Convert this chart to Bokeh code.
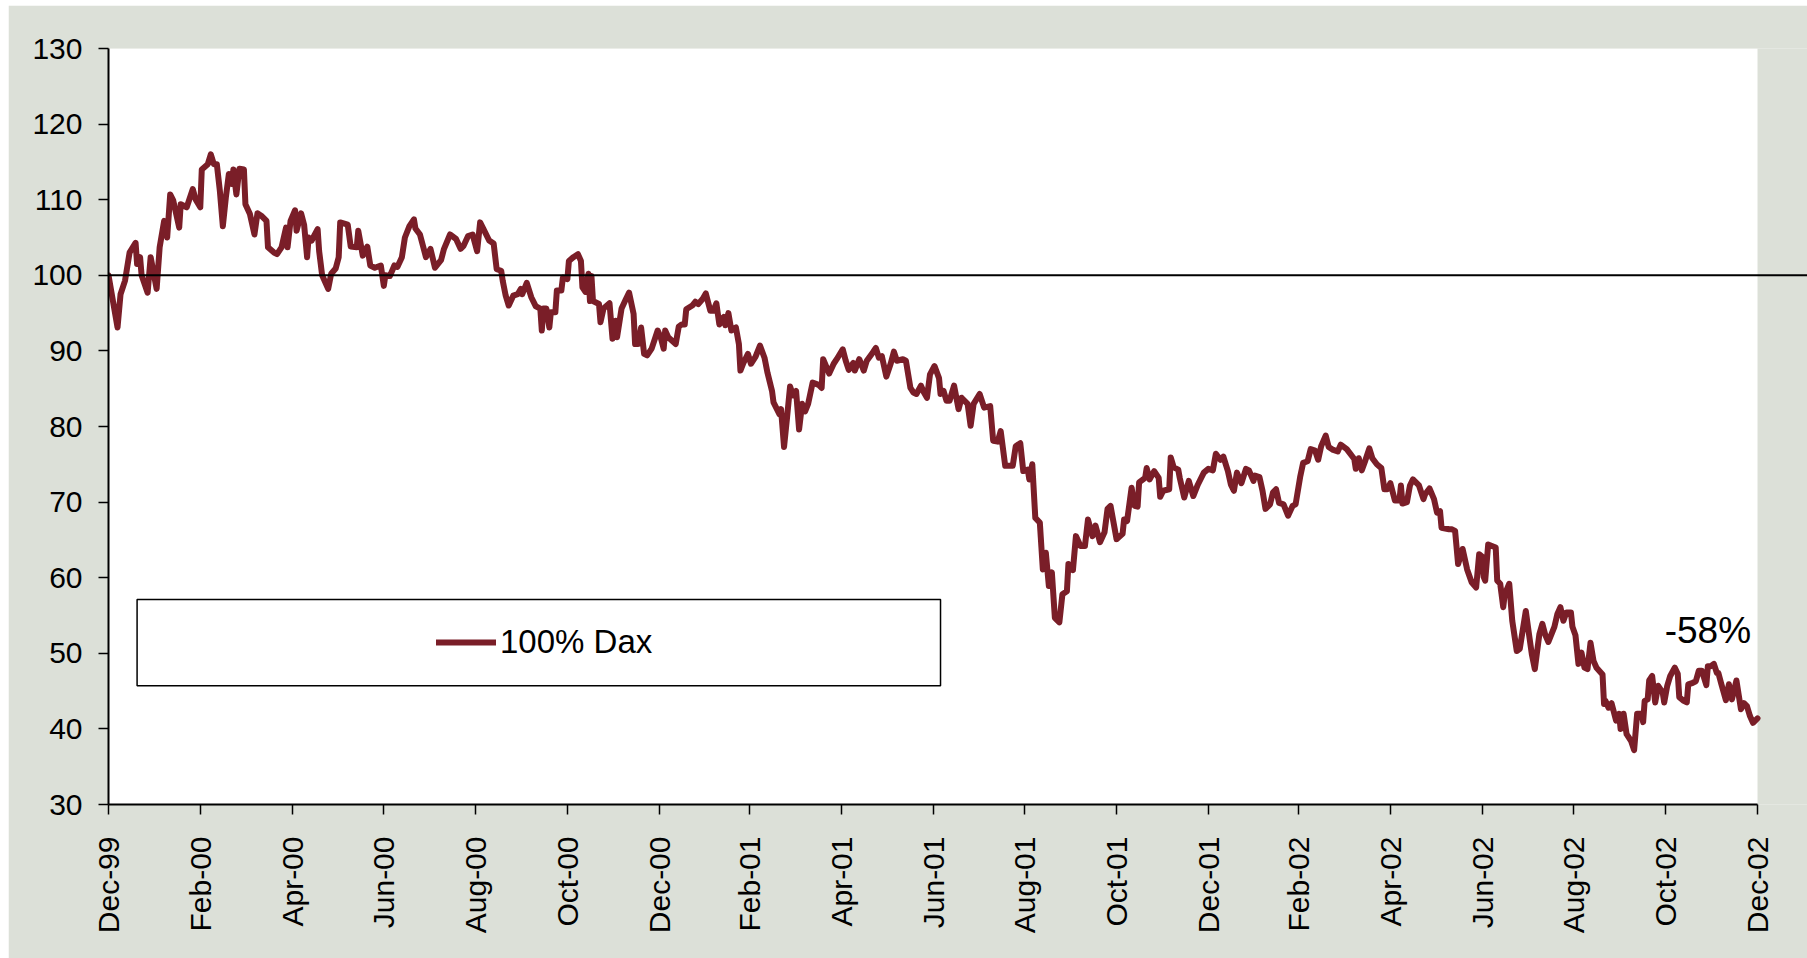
import math
from datetime import datetime, timedelta

from bokeh.plotting import figure
from bokeh.models import (Range1d, FixedTicker, DatetimeTickFormatter, Legend,
                          LegendItem, BoxAnnotation, Span, Label, ColumnDataSource)
from bokeh.embed import file_html
from bokeh.resources import INLINE

# ---------------- data ----------------
START = datetime(1999, 12, 30)
END = datetime(2002, 12, 30)

# days since 30 Dec 1999 and indexed DAX level (start = 100)
day_offset = [
    0, 6, 8, 11, 14, 18, 19, 21, 22, 26, 28, 32, 34, 37, 39, 41, 43, 47, 48, 52,
    56, 58, 61, 62, 66, 68, 70, 72, 74, 76, 78, 80, 82, 83, 85, 87, 90, 91, 94, 97,
    99, 102, 105, 106, 110, 112, 115, 118, 119, 121, 124, 125, 128, 130, 132, 133, 135, 139, 140, 142,
    146, 148, 151, 153, 154, 159, 161, 165, 166, 169, 172, 174, 177, 181, 183, 184, 187, 190, 192, 195,
    197, 200, 203, 204, 207, 211, 214, 217, 221, 223, 227, 231, 234, 236, 239, 242, 245, 247, 249, 253,
    256, 258, 261, 262, 264, 266, 269, 272, 274, 275, 278, 281, 284, 287, 288, 289, 291, 293, 294, 297,
    298, 301, 302, 305, 306, 309, 312, 314, 315, 317, 319, 320, 321, 322, 326, 327, 329, 333, 335, 337,
    338, 341, 344, 346, 349, 350, 352, 354, 356, 358, 361, 365, 367, 369, 370, 372, 377, 379, 381, 383,
    384, 388, 390, 392, 395, 397, 400, 402, 404, 406, 409, 410, 412, 414, 417, 419, 420, 422, 425, 427,
    430, 433, 436, 438, 441, 442, 446, 447, 449, 451, 453, 455, 457, 459, 461, 463, 465, 468, 472, 474,
    475, 479, 482, 484, 488, 490, 492, 495, 496, 499, 502, 504, 508, 510, 512, 514, 517, 520, 522, 524,
    528, 530, 533, 535, 537, 540, 542, 544, 546, 549, 552, 553, 555, 557, 559, 562, 565, 567, 571, 573,
    575, 579, 582, 586, 588, 591, 593, 596, 601, 603, 606, 608, 611, 612, 614, 616, 619, 621, 623, 625,
    627, 629, 632, 634, 637, 638, 641, 643, 646, 649, 651, 654, 656, 659, 662, 664, 666, 670, 674, 675,
    677, 680, 682, 684, 685, 689, 690, 692, 695, 698, 699, 701, 705, 706, 708, 711, 712, 715, 718, 721,
    724, 728, 731, 734, 736, 739, 741, 744, 746, 748, 750, 753, 756, 758, 761, 762, 765, 767, 769, 772,
    774, 776, 778, 781, 784, 787, 789, 792, 794, 797, 799, 802, 804, 806, 809, 811, 814, 817, 819, 823,
    828, 829, 831, 833, 835, 838, 840, 843, 846, 848, 850, 852, 855, 858, 859, 860, 863, 865, 867, 871,
    874, 875, 878, 881, 883, 885, 886, 891, 893, 895, 897, 900, 903, 906, 909, 911, 913, 914, 915, 917,
    922, 923, 925, 927, 928, 931, 933, 936, 938, 942, 944, 946, 948, 951, 953, 955, 957, 961, 963, 965,
    967, 969, 972, 973, 975, 977, 979, 981, 983, 985, 987, 989, 993, 994, 995, 997, 999, 1002, 1004, 1005,
    1007, 1009, 1012, 1014, 1016, 1019, 1020, 1021, 1023, 1024, 1026, 1028, 1030, 1033, 1034, 1036, 1038, 1041, 1043, 1044,
    1047, 1049, 1050, 1053, 1055, 1057, 1059, 1062, 1063, 1065, 1067, 1069, 1070, 1072, 1075, 1077, 1079, 1082, 1085, 1087,
    1089, 1091, 1093, 1096,
]

dax = [
    100.0, 93.1, 97.5, 99.3, 103.0, 104.3, 101.5, 102.4, 100.0, 97.7, 102.4, 98.2, 103.7, 107.2, 105.0, 110.7, 109.9, 106.3, 109.4, 109.0,
    111.4, 110.0, 109.0, 114.0, 114.7, 116.0, 114.7, 114.7, 111.2, 106.5, 110.3, 113.4, 112.1, 114.0, 110.7, 114.1, 114.0, 109.4, 108.1, 105.4,
    108.2, 107.8, 107.2, 103.7, 103.0, 102.8, 103.7, 106.3, 103.7, 107.2, 108.6, 105.9, 108.2, 106.7, 102.4, 105.0, 104.6, 106.1, 103.2, 100.0,
    98.2, 100.2, 100.9, 102.4, 107.0, 106.7, 103.8, 103.7, 105.9, 102.6, 103.8, 101.3, 101.0, 101.3, 98.6, 100.0, 99.9, 101.3, 101.1, 102.4,
    105.0, 106.5, 107.4, 106.2, 105.4, 102.4, 103.5, 101.0, 102.0, 103.5, 105.4, 104.8, 103.5, 103.9, 105.2, 105.4, 103.2, 107.0, 106.2, 104.6,
    104.2, 100.8, 100.6, 99.3, 97.3, 96.0, 97.3, 97.5, 98.2, 97.5, 99.0, 97.1, 95.9, 95.6, 92.7, 95.6, 95.6, 93.1, 95.1, 95.1,
    98.0, 98.0, 99.7, 99.5, 101.9, 102.4, 102.8, 101.9, 98.4, 97.8, 100.2, 96.6, 99.9, 96.6, 96.2, 93.8, 95.6, 96.3, 91.6, 94.0,
    91.8, 95.6, 96.9, 97.7, 94.9, 90.9, 90.9, 93.1, 89.6, 89.4, 90.3, 92.7, 91.8, 90.3, 92.7, 91.8, 90.9, 93.2, 93.5, 93.5,
    95.5, 96.0, 96.5, 96.2, 96.9, 97.6, 95.3, 95.3, 96.3, 93.5, 94.5, 93.4, 95.0, 92.7, 93.1, 90.9, 87.4, 88.4, 89.6, 88.3,
    89.2, 90.7, 89.1, 87.1, 84.7, 83.2, 81.6, 82.3, 77.3, 81.2, 85.3, 84.1, 84.7, 79.6, 83.0, 82.0, 83.0, 85.8, 85.5, 85.1,
    88.9, 87.0, 88.3, 88.9, 90.2, 88.7, 87.5, 88.4, 87.4, 88.9, 87.4, 88.7, 89.8, 90.4, 89.1, 89.3, 86.6, 88.4, 89.9, 88.7,
    88.9, 88.7, 85.1, 84.5, 84.3, 85.4, 84.5, 83.8, 86.9, 88.0, 86.4, 84.3, 84.7, 83.4, 83.4, 85.4, 82.3, 83.8, 83.0, 80.1,
    83.0, 84.3, 82.5, 82.7, 78.1, 78.0, 79.4, 74.8, 74.8, 77.4, 77.8, 74.1, 74.3, 73.0, 75.0, 67.9, 67.3, 61.1, 63.3, 58.9,
    60.7, 54.7, 54.1, 57.8, 58.2, 61.8, 61.0, 65.5, 64.2, 64.2, 67.7, 65.5, 66.9, 64.7, 66.0, 69.1, 69.5, 65.1, 65.8, 67.7,
    67.5, 71.9, 69.5, 69.4, 72.6, 73.2, 74.5, 73.0, 74.1, 73.2, 70.7, 71.5, 71.7, 75.9, 74.6, 74.3, 73.2, 70.6, 72.8, 70.8,
    72.3, 73.9, 74.4, 74.2, 76.4, 75.6, 76.0, 74.1, 72.3, 71.5, 73.9, 72.5, 74.4, 74.2, 72.8, 73.5, 73.3, 71.5, 69.1, 69.7,
    71.3, 71.7, 69.9, 69.7, 68.2, 69.5, 69.7, 73.3, 75.2, 75.4, 77.0, 76.8, 75.6, 77.4, 78.8, 77.3, 76.9, 76.7, 77.6, 77.0,
    75.7, 74.4, 75.8, 74.2, 75.3, 77.1, 75.8, 75.0, 74.5, 71.7, 71.7, 72.5, 70.2, 70.2, 72.2, 69.8, 70.0, 72.2, 73.0, 72.2,
    70.4, 71.0, 71.8, 70.4, 68.6, 68.8, 66.6, 66.4, 66.4, 66.2, 61.8, 63.8, 61.1, 59.4, 58.7, 63.1, 62.8, 60.1, 59.6, 64.4,
    64.0, 59.6, 59.2, 56.1, 57.8, 59.2, 54.3, 50.3, 50.6, 55.6, 52.7, 49.9, 47.9, 52.5, 53.9, 52.4, 51.5, 53.5, 55.2, 56.1,
    54.3, 55.4, 55.4, 53.5, 52.4, 48.6, 50.1, 48.1, 47.9, 51.4, 49.0, 48.1, 47.2, 43.3, 43.7, 42.8, 43.4, 41.1, 42.0, 40.0,
    42.0, 39.3, 38.4, 37.2, 42.0, 42.0, 40.9, 43.7, 43.9, 46.4, 47.0, 43.5, 45.7, 44.8, 43.5, 45.7, 47.0, 48.1, 47.3, 44.2,
    43.7, 43.5, 45.9, 46.1, 46.3, 47.7, 47.7, 45.8, 48.3, 48.3, 48.6, 47.4, 47.4, 45.9, 43.8, 45.9, 43.9, 46.4, 42.6, 43.4,
    43.0, 41.7, 40.8, 41.4,
]

tick_dates = [
    datetime(1999, 12, 30), datetime(2000, 2, 29), datetime(2000, 4, 30), datetime(2000, 6, 30),
    datetime(2000, 8, 30), datetime(2000, 10, 30), datetime(2000, 12, 30), datetime(2001, 2, 28),
    datetime(2001, 4, 30), datetime(2001, 6, 30), datetime(2001, 8, 30), datetime(2001, 10, 30),
    datetime(2001, 12, 30), datetime(2002, 2, 28), datetime(2002, 4, 30), datetime(2002, 6, 30),
    datetime(2002, 8, 30), datetime(2002, 10, 30), datetime(2002, 12, 30),
]
tick_labels = [
    "Dec-99", "Feb-00", "Apr-00", "Jun-00", "Aug-00", "Oct-00", "Dec-00", "Feb-01",
    "Apr-01", "Jun-01", "Aug-01", "Oct-01", "Dec-01", "Feb-02", "Apr-02", "Jun-02",
    "Aug-02", "Oct-02", "Dec-02",
]
y_ticks = [30, 40, 50, 60, 70, 80, 90, 100, 110, 120, 130]
series_name = "100% Dax"
change_label = "-58%"
baseline = 100

EPOCH = datetime(1970, 1, 1)


def ms(d):
    return (d - EPOCH).total_seconds() * 1000.0


DAY_MS = 86400000.0
dates = [START + timedelta(days=d) for d in day_offset]
src = ColumnDataSource(data=dict(date=[ms(d) for d in dates], dax=dax))

# ---------------- figure ----------------
FONT = "Liberation Sans"
LINE_COLOR = "#7a1e28"
BG = "#dce0d8"

FIG_W, FIG_H = 1799, 953
BORDER_L, BORDER_T, BORDER_B = 100, 43, 154
DATA_W = 1649  # pixel width of the Dec-99..Dec-02 span
frame_w = FIG_W - BORDER_L
span_days = (END - START).days
x_end_ms = ms(START) + span_days * DAY_MS * frame_w / DATA_W

p = figure(
    width=FIG_W, height=FIG_H,
    x_axis_type="datetime",
    x_range=Range1d(ms(START), x_end_ms),
    y_range=Range1d(30, 130),
    output_backend="svg", toolbar_location=None,
    min_border_left=BORDER_L, min_border_right=0, min_border_top=BORDER_T,
    min_border_bottom=BORDER_B,
    background_fill_color=BG, border_fill_color=BG,
    outline_line_color=None,
    margin=(5, 0, 0, 8),
)
p.xgrid.visible = False
p.ygrid.visible = False

# white plotting area (Dec-99 .. Dec-02)
p.add_layout(BoxAnnotation(left=ms(START), right=ms(END), bottom=30, top=130,
                           fill_color="white", fill_alpha=1.0, line_color=None,
                           level="underlay"))

r = p.line("date", "dax", source=src, line_color=LINE_COLOR, line_width=6,
           line_join="round", line_cap="round")

# horizontal reference line at 100, running to the right edge
p.add_layout(Span(location=baseline, dimension="width", line_color="black", line_width=2))

# axes
tick_ms = [ms(d) for d in tick_dates]
xa = p.xaxis[0]
xa.ticker = FixedTicker(ticks=tick_ms)
xa.bounds = (ms(START), ms(END))
xa.formatter = DatetimeTickFormatter(days="%b-%y", months="%b-%y", years="%b-%y")
xa.major_label_overrides = {t: lab for t, lab in zip(tick_ms, tick_labels)}
xa.major_label_orientation = math.pi / 2
xa.major_label_text_font = FONT
xa.major_label_text_font_size = "30px"
xa.major_label_text_color = "black"
xa.major_label_standoff = 22
xa.major_tick_out = 10
xa.major_tick_in = 0
xa.minor_tick_out = 0
xa.minor_tick_in = 0
xa.axis_line_color = "black"
xa.axis_line_width = 2
xa.major_tick_line_color = "black"
xa.major_tick_line_width = 1.5

ya = p.yaxis[0]
ya.ticker = FixedTicker(ticks=y_ticks)
ya.major_label_text_font = FONT
ya.major_label_text_font_size = "30px"
ya.major_label_text_color = "black"
ya.major_label_standoff = 16
ya.major_tick_out = 10
ya.major_tick_in = 0
ya.minor_tick_out = 0
ya.minor_tick_in = 0
ya.axis_line_color = "black"
ya.axis_line_width = 2
ya.major_tick_line_color = "black"
ya.major_tick_line_width = 1.5

# legend frame
p.add_layout(BoxAnnotation(left=ms(START + timedelta(days=19)), right=ms(START + timedelta(days=553)),
                           bottom=45.7, top=57.1,
                           fill_color="white", fill_alpha=1.0,
                           line_color="black", line_width=1.5, line_alpha=1.0))

legend = Legend(
    items=[LegendItem(label=series_name, renderers=[r])],
    location=(328, 143),
    border_line_color=None, background_fill_alpha=0.0,
    padding=0, margin=0, spacing=0,
    glyph_width=60, glyph_height=20, label_standoff=4,
    label_text_font=FONT, label_text_font_size="33px", label_text_color="black",
)
p.add_layout(legend, "center")

p.add_layout(Label(x=ms(START + timedelta(days=1063)), y=53.0, text=change_label,
                   text_align="center", text_baseline="middle",
                   text_font=FONT, text_font_size="37px", text_color="black"))

open("out.html", "w").write(file_html(p, INLINE))
